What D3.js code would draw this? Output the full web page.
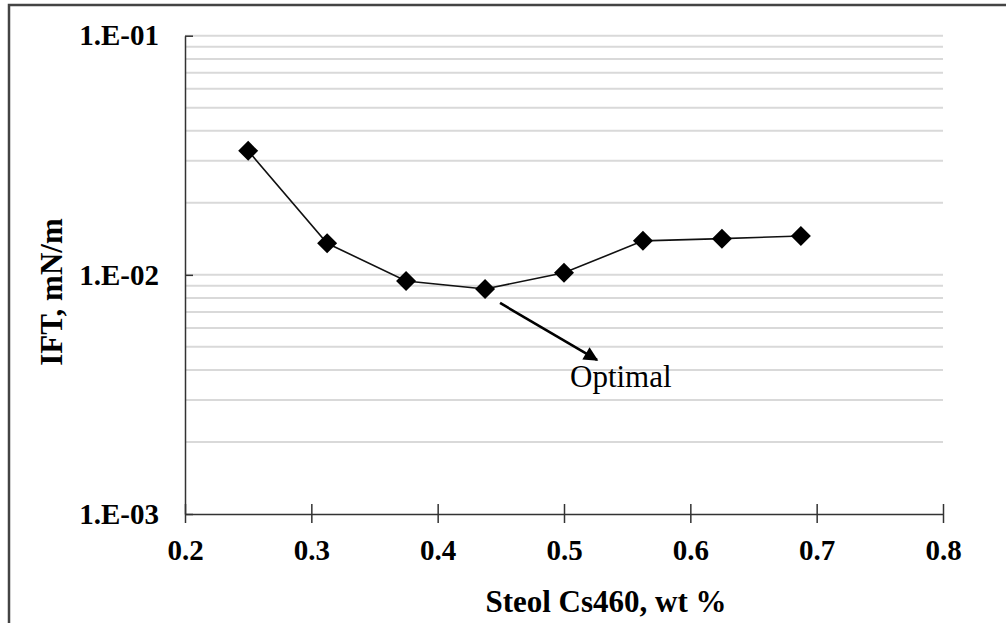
<!DOCTYPE html>
<html lang="en">
<head>
  <meta charset="UTF-8">
  <title>IFT vs Steol Cs460</title>
  <script src="https://d3js.org/d3.v7.min.js"></script>
  <style>
    body {
      margin: 0;
      padding: 0;
      background-color: #fff;
    }
    .grid line {
      stroke: #d9d9d9;
      stroke-width: 2px;
    }
    .axis path, .axis line {
      stroke: #333;
      stroke-width: 1.5px;
    }
    .axis text {
      font-family: "Liberation Serif", "DejaVu Serif", serif;
      font-weight: bold;
      font-size: 29px;
      fill: #000;
    }
    .title {
      font-family: "Liberation Serif", "DejaVu Serif", serif;
      font-weight: bold;
      font-size: 31px;
      fill: #000;
    }
    .note {
      font-family: "Liberation Serif", "DejaVu Serif", serif;
      font-size: 31px;
      fill: #000;
    }
  </style>
</head>
<body>
  <div id="chart"></div>

  <script>
    // Data
    const concentration = [0.25, 0.3125, 0.375, 0.4375, 0.5, 0.5625, 0.625, 0.6875];
    const ift = [0.0330, 0.01355, 0.00943, 0.00873, 0.0102, 0.01387, 0.01417, 0.01454];
    const xTicks = [0.2, 0.3, 0.4, 0.5, 0.6, 0.7, 0.8];
    const yTicks = [1e-3, 1e-2, 1e-1];
    const yTickLabels = ['1.E-03', '1.E-02', '1.E-01'];
    const optimalIndex = 3;

    const width = 1006;
    const height = 623;
    const plotLeft = 185, plotRight = 943, plotTop = 35.7, plotBottom = 514;

    const svg = d3.select('#chart')
      .append('svg')
      .attr('width', width)
      .attr('height', height);

    // frame (only top and left visible in the picture)
    svg.append('path')
      .attr('d', `M9,${height} L9,5 L${width},5`)
      .attr('fill', 'none')
      .attr('stroke', '#444')
      .attr('stroke-width', 2.5);

    const x = d3.scaleLinear().domain([0.2, 0.8]).range([plotLeft, plotRight]);
    const y = d3.scaleLog().domain([1e-3, 1e-1]).range([plotBottom, plotTop]);

    // gridlines: every 1..9 x decade, except the bottom one
    const gridVals = [];
    for (let e = -3; e < -1; e++) {
      for (let m = 1; m <= 9; m++) {
        const v = m * Math.pow(10, e);
        if (v > 1e-3) gridVals.push(v);
      }
    }
    gridVals.push(1e-1);

    svg.append('g')
      .attr('class', 'grid')
      .selectAll('line')
      .data(gridVals)
      .enter()
      .append('line')
      .attr('x1', plotLeft)
      .attr('x2', plotRight)
      .attr('y1', d => y(d))
      .attr('y2', d => y(d));

    // axes
    const xAxis = svg.append('g')
      .attr('class', 'axis')
      .attr('transform', `translate(0,${plotBottom})`)
      .call(d3.axisBottom(x).tickValues(xTicks).tickFormat(d3.format('.1f')).tickSizeOuter(0).tickSizeInner(9).tickPadding(16));
    xAxis.attr('font-family', null);
    xAxis.selectAll('.tick line').attr('y1', -10);

    const yAxis = svg.append('g')
      .attr('class', 'axis')
      .attr('transform', `translate(${plotLeft},0)`)
      .call(d3.axisLeft(y).tickValues(yTicks).tickFormat((d, i) => yTickLabels[i]).tickSizeOuter(0).tickSizeInner(10).tickPadding(16));
    yAxis.attr('font-family', null);
    yAxis.selectAll('.tick line').attr('x2', 8);

    // series line
    const points = concentration.map((c, i) => [c, ift[i]]);
    svg.append('path')
      .datum(points)
      .attr('fill', 'none')
      .attr('stroke', '#111')
      .attr('stroke-width', 1.6)
      .attr('d', d3.line().x(d => x(d[0])).y(d => y(d[1])));

    // diamond markers
    svg.append('g')
      .selectAll('path')
      .data(points)
      .enter()
      .append('path')
      .attr('d', d3.symbol().type(d3.symbolSquare).size(200))
      .attr('transform', d => `translate(${x(d[0])},${y(d[1])}) rotate(45)`)
      .attr('fill', '#000');

    // annotation arrow
    svg.append('defs').append('marker')
      .attr('id', 'arrow')
      .attr('viewBox', '0 0 10 10')
      .attr('refX', 9)
      .attr('refY', 5)
      .attr('markerWidth', 6.5)
      .attr('markerHeight', 5.5)
      .attr('markerUnits', 'strokeWidth')
      .attr('orient', 'auto')
      .append('path')
      .attr('d', 'M0,0 L10,5 L0,10 Z')
      .attr('fill', '#000');

    const ox = x(concentration[optimalIndex]) + 15;
    const oy = y(ift[optimalIndex]) + 14;
    svg.append('line')
      .attr('x1', ox)
      .attr('y1', oy)
      .attr('x2', ox + 97)
      .attr('y2', oy + 57)
      .attr('stroke', '#000')
      .attr('stroke-width', 2.6)
      .attr('marker-end', 'url(#arrow)');

    svg.append('text')
      .attr('class', 'note')
      .attr('x', 570)
      .attr('y', 387)
      .text('Optimal');

    // axis titles
    svg.append('text')
      .attr('class', 'title')
      .attr('x', 606)
      .attr('y', 612)
      .attr('text-anchor', 'middle')
      .text('Steol Cs460, wt %');

    svg.append('text')
      .attr('class', 'title')
      .attr('transform', 'translate(62,292) rotate(-90)')
      .attr('text-anchor', 'middle')
      .text('IFT, mN/m');
  </script>
</body>
</html>
